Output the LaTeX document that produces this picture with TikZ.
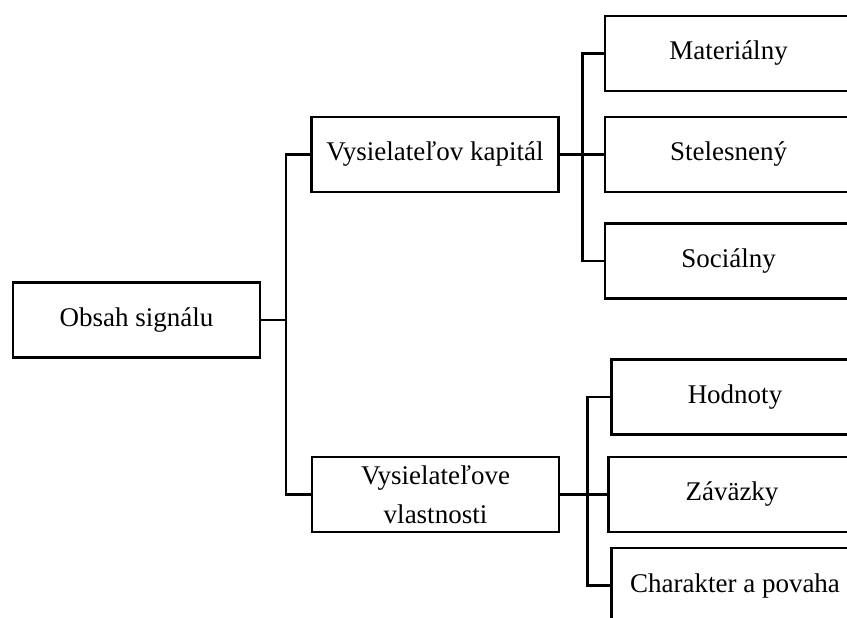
\documentclass[tikz,border=0pt]{standalone}
\usepackage{fontspec}
\setmainfont{Liberation Serif}
\begin{document}
\begin{tikzpicture}[x=0.5pt,y=-0.5pt,
  box/.style={draw=black, line width=1.25pt, fill=white, inner sep=0pt,
    minimum width=123.5pt, minimum height=37.5pt, align=center,
    font=\fontsize{13.5}{19.5}\selectfont},
  conn/.style={draw=black, line width=1.25pt}]
\useasboundingbox (0,0) rectangle (847,617);
\clip (0,0) rectangle (847,617);
\node[box] (obsah) at (136.5,320) {Obsah signálu};
\node[box] (kap) at (435,154.5) {Vysielateľov kapitál};
\node[box] (vlast) at (435.5,494.5) {Vysielateľove\\vlastnosti};
\node[box] (mat) at (728.5,53.5) {Materiálny};
\node[box] (stel) at (728.5,154.5) {Stelesnený};
\node[box] (soc) at (728.5,261) {Sociálny};
\node[box] (hod) at (735,397) {Hodnoty};
\node[box] (zav) at (732,494.5) {Záväzky};
\node[box] (char) at (735,585.5) {Charakter a povaha};
\coordinate (t1) at (286,0);
\coordinate (t2) at (582.5,0);
\coordinate (t3) at (587.5,0);
\draw[conn] (obsah.east) -- (obsah.east -| t1);
\draw[conn] (kap.west) -- (kap.west -| t1) -- (vlast.west -| t1) -- (vlast.west);
\draw[conn] (kap.east) -- (stel.west);
\draw[conn] (mat.west) -- (mat.west -| t2) -- (soc.west -| t2) -- (soc.west);
\draw[conn] (vlast.east) -- (zav.west);
\draw[conn] (hod.west) -- (hod.west -| t3) -- (char.west -| t3) -- (char.west);
\end{tikzpicture}
\end{document}
